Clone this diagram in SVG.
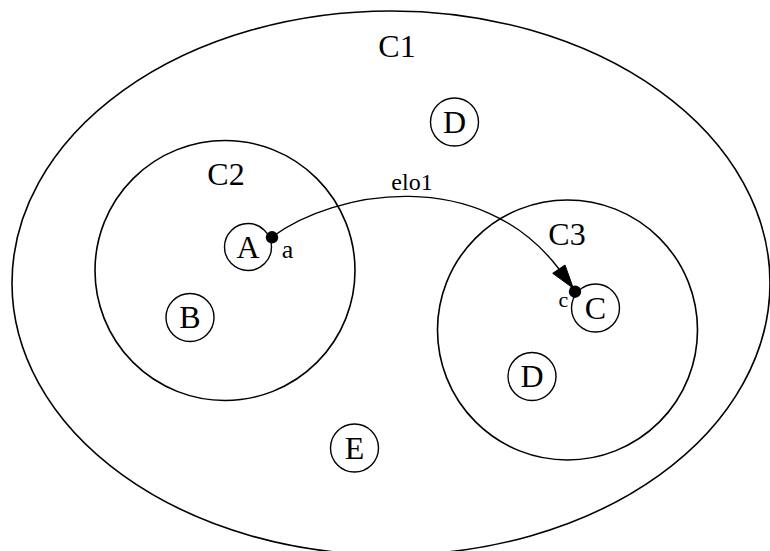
<svg xmlns="http://www.w3.org/2000/svg" width="770" height="551" viewBox="0 0 770 551">
<style>
.cl{fill:none;stroke:#000;stroke-width:1.6}
.nd{fill:none;stroke:#000;stroke-width:1.4}
.t{font-family:"Liberation Serif","Times New Roman",serif;fill:#000;text-anchor:middle}
.big{font-size:32px}
.sm{font-size:24px}
.port{fill:#000}
</style>
<rect width="770" height="551" fill="#fff"/>
<g id="C1">
<ellipse class="cl" cx="391" cy="283" rx="379" ry="272"/>
<text class="t big" x="397" y="57">C1</text>
</g>
<g id="C2">
<circle class="cl" cx="225" cy="270.5" r="130"/>
<text class="t big" x="226" y="185">C2</text>
</g>
<g id="C3">
<circle class="cl" cx="567.5" cy="330" r="130"/>
<text class="t big" x="567" y="245">C3</text>
</g>
<g id="D1">
<circle class="nd" cx="454.5" cy="122" r="24"/>
<text class="t big" x="454.5" y="132.5">D</text>
</g>
<g id="A">
<circle class="nd" cx="248" cy="247" r="23.5"/>
<text class="t big" x="248" y="258">A</text>
<text class="t" style="font-size:26px" x="287.5" y="258">a</text>
</g>
<g id="B">
<circle class="nd" cx="190" cy="317.5" r="24"/>
<text class="t big" x="190" y="328">B</text>
</g>
<g id="E">
<circle class="nd" cx="354.5" cy="448" r="24"/>
<text class="t big" x="354.5" y="458.5">E</text>
</g>
<g id="C">
<circle class="nd" cx="595.5" cy="308" r="24"/>
<text class="t big" x="595.5" y="318.5">C</text>
<text class="t" style="font-size:22px" x="563.5" y="307">c</text>
</g>
<g id="D2">
<circle class="nd" cx="532" cy="376.5" r="24"/>
<text class="t big" x="532" y="387">D</text>
</g>
<g id="connectors">
<path class="nd" d="M272,237 C335,190 480,165 559,269"/>
<polygon fill="#000" stroke="#000" stroke-width="1" points="552.7,273.3 565,265 573.3,288.3"/>
<circle class="port" cx="272" cy="237.3" r="6.2"/>
<circle class="port" cx="575" cy="291.7" r="6.2"/>
<text class="t sm" x="412" y="190">elo1</text>
</g>
</svg>
